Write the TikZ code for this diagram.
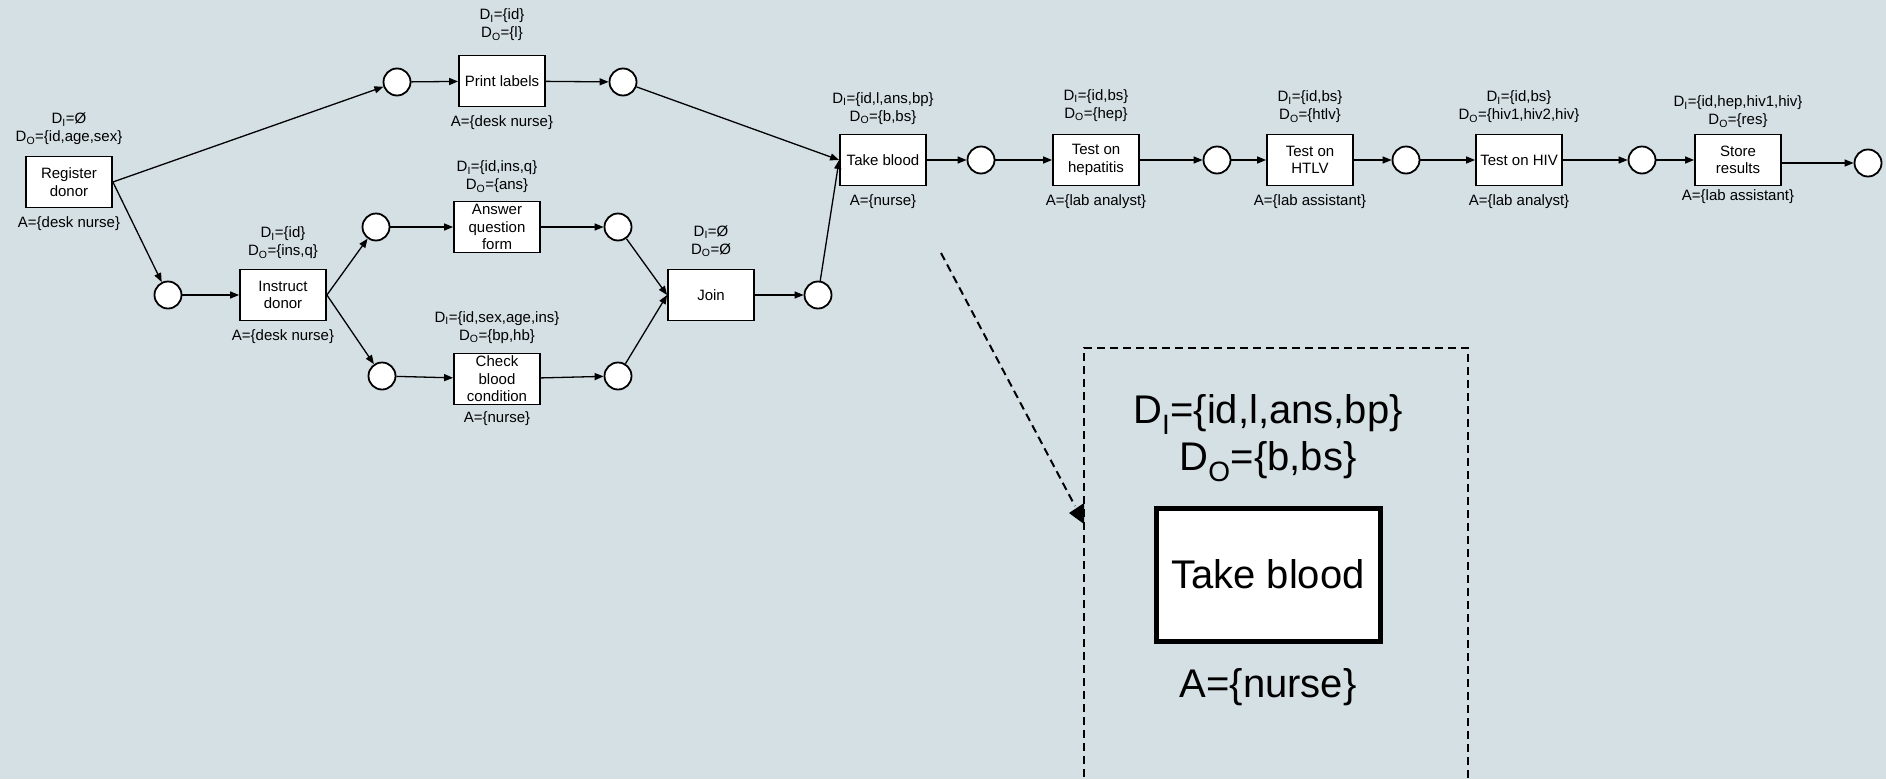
\documentclass[tikz,border=0pt]{standalone}
\usepackage{fontspec}
\setmainfont{Liberation Sans}
\usetikzlibrary{arrows.meta}
\definecolor{bg}{RGB}{213,224,229}
\newcommand{\myDI}{D\textsubscript{I}}
\newcommand{\myDO}{D\textsubscript{O}}
\begin{document}
\begin{tikzpicture}[x=1pt,y=-1pt,
  trans/.style={draw, line width=1.8pt, fill=white, minimum width=86pt, minimum height=51pt, inner sep=0pt, align=center, font=\fontsize{15}{17.5}\selectfont},
  place/.style={draw, circle, line width=1.8pt, fill=white, minimum size=27pt, inner sep=0pt},
  lab/.style={align=center, inner sep=0pt, font=\fontsize{15}{18}\selectfont},
  biglab/.style={align=center, inner sep=0pt, font=\fontsize{40}{47}\selectfont},
  arc/.style={line width=1.3pt, -{Triangle[length=9pt,width=7pt]}},
  zoomline/.style={line width=2pt, dash pattern=on 8pt off 5pt}
]
\fill[bg] (0,0) rectangle (1886,779);
\useasboundingbox (0,0) rectangle (1886,779);

% transitions
\node[trans] (reg) at (69,182) {Register\\donor};
\node[lab] (reg-d) at (69,129) {\myDI=Ø\\\myDO=\{id,age,sex\}};
\node[lab] (reg-a) at (69,224) {A=\{desk nurse\}};

\node[trans] (ins) at (283,295) {Instruct\\donor};
\node[lab] (ins-d) at (283,243) {\myDI=\{id\}\\\myDO=\{ins,q\}};
\node[lab] (ins-a) at (283,337) {A=\{desk nurse\}};

\node[trans] (prt) at (502,81) {Print labels};
\node[lab] (prt-d) at (502,25) {\myDI=\{id\}\\\myDO=\{l\}};
\node[lab] (prt-a) at (502,123) {A=\{desk nurse\}};

\node[trans] (ans) at (497,227) {Answer\\question\\form};
\node[lab] (ans-d) at (497,177) {\myDI=\{id,ins,q\}\\\myDO=\{ans\}};

\node[trans] (chk) at (497,379) {Check\\blood\\condition};
\node[lab] (chk-d) at (497,327.5) {\myDI=\{id,sex,age,ins\}\\\myDO=\{bp,hb\}};
\node[lab] (chk-a) at (497,419) {A=\{nurse\}};

\node[trans] (join) at (711,295) {Join};
\node[lab] (join-d) at (711,241) {\myDI=Ø\\\myDO=Ø};

\node[trans] (tb) at (883,160) {Take blood};
\node[lab] (tb-d) at (883,108.5) {\myDI=\{id,l,ans,bp\}\\\myDO=\{b,bs\}};
\node[lab] (tb-a) at (883,202) {A=\{nurse\}};

\node[trans] (hep) at (1096,160) {Test on\\hepatitis};
\node[lab] (hep-d) at (1096,105.5) {\myDI=\{id,bs\}\\\myDO=\{hep\}};
\node[lab] (hep-a) at (1096,202) {A=\{lab analyst\}};

\node[trans] (htlv) at (1310,160) {Test on\\HTLV};
\node[lab] (htlv-d) at (1310,107) {\myDI=\{id,bs\}\\\myDO=\{htlv\}};
\node[lab] (htlv-a) at (1310,202) {A=\{lab assistant\}};

\node[trans] (hiv) at (1519,160) {Test on HIV};
\node[lab] (hiv-d) at (1519,107) {\myDI=\{id,bs\}\\\myDO=\{hiv1,hiv2,hiv\}};
\node[lab] (hiv-a) at (1519,202) {A=\{lab analyst\}};

\node[trans] (sto) at (1738,160) {Store\\results};
\node[lab] (sto-d) at (1738,112) {\myDI=\{id,hep,hiv1,hiv\}\\\myDO=\{res\}};
\node[lab] (sto-a) at (1738,197) {A=\{lab assistant\}};

% places
\node[place] (p1) at (168,295) {};
\node[place] (p2) at (397,82) {};
\node[place] (p3) at (623,82) {};
\node[place] (p4) at (376,227) {};
\node[place] (p5) at (618,227) {};
\node[place] (p6) at (382,376) {};
\node[place] (p7) at (618,376) {};
\node[place] (p8) at (818,295) {};
\node[place] (p9) at (981,160) {};
\node[place] (p10) at (1217,160) {};
\node[place] (p11) at (1406,160) {};
\node[place] (p12) at (1642,160) {};
\node[place] (p13) at (1868,163) {};

% arcs
\draw[arc] (reg.east) -- (p2);
\draw[arc] (reg.east) -- (p1);
\draw[arc] (p1) -- (ins);
\draw[arc] (p2) -- (prt);
\draw[arc] (prt) -- (p3);
\draw[arc] (ins.east) -- (p4);
\draw[arc] (ins.east) -- (p6);
\draw[arc] (p4) -- (ans);
\draw[arc] (ans) -- (p5);
\draw[arc] (p6) -- (chk);
\draw[arc] (chk) -- (p7);
\draw[arc] (p5) -- (join.west);
\draw[arc] (p7) -- (join.west);
\draw[arc] (join) -- (p8);
\draw[arc] (p3) -- (tb.west);
\draw[arc] (p8) -- (tb.west);
\draw[arc] (tb) -- (p9);
\draw[arc] (p9) -- (hep);
\draw[arc] (hep) -- (p10);
\draw[arc] (p10) -- (htlv);
\draw[arc] (htlv) -- (p11);
\draw[arc] (p11) -- (hiv);
\draw[arc] (hiv) -- (p12);
\draw[arc] (p12) -- (sto);
\draw[arc] (sto.east |- p13) -- (p13);

% zoomed detail
\draw[zoomline] (1084,790) -- (1084,348) -- (1468,348) -- (1468,790);
\coordinate (zs) at (941,253);
\coordinate (ze) at (1075,506);
\draw[zoomline] (zs) -- (ze);
\fill (1084,503) -- (1084,524) -- (1069,513) -- cycle;

\node[draw, line width=5pt, fill=white, minimum width=224pt, minimum height=133pt, inner sep=0pt, font=\fontsize{40}{47}\selectfont] (bigtb) at (1268,574.5) {Take blood};
\node[biglab] (bigtb-d) at (1268,438) {\myDI=\{id,l,ans,bp\}\\\myDO=\{b,bs\}};
\node[biglab] (bigtb-a) at (1268,687) {A=\{nurse\}};
\end{tikzpicture}
\end{document}
